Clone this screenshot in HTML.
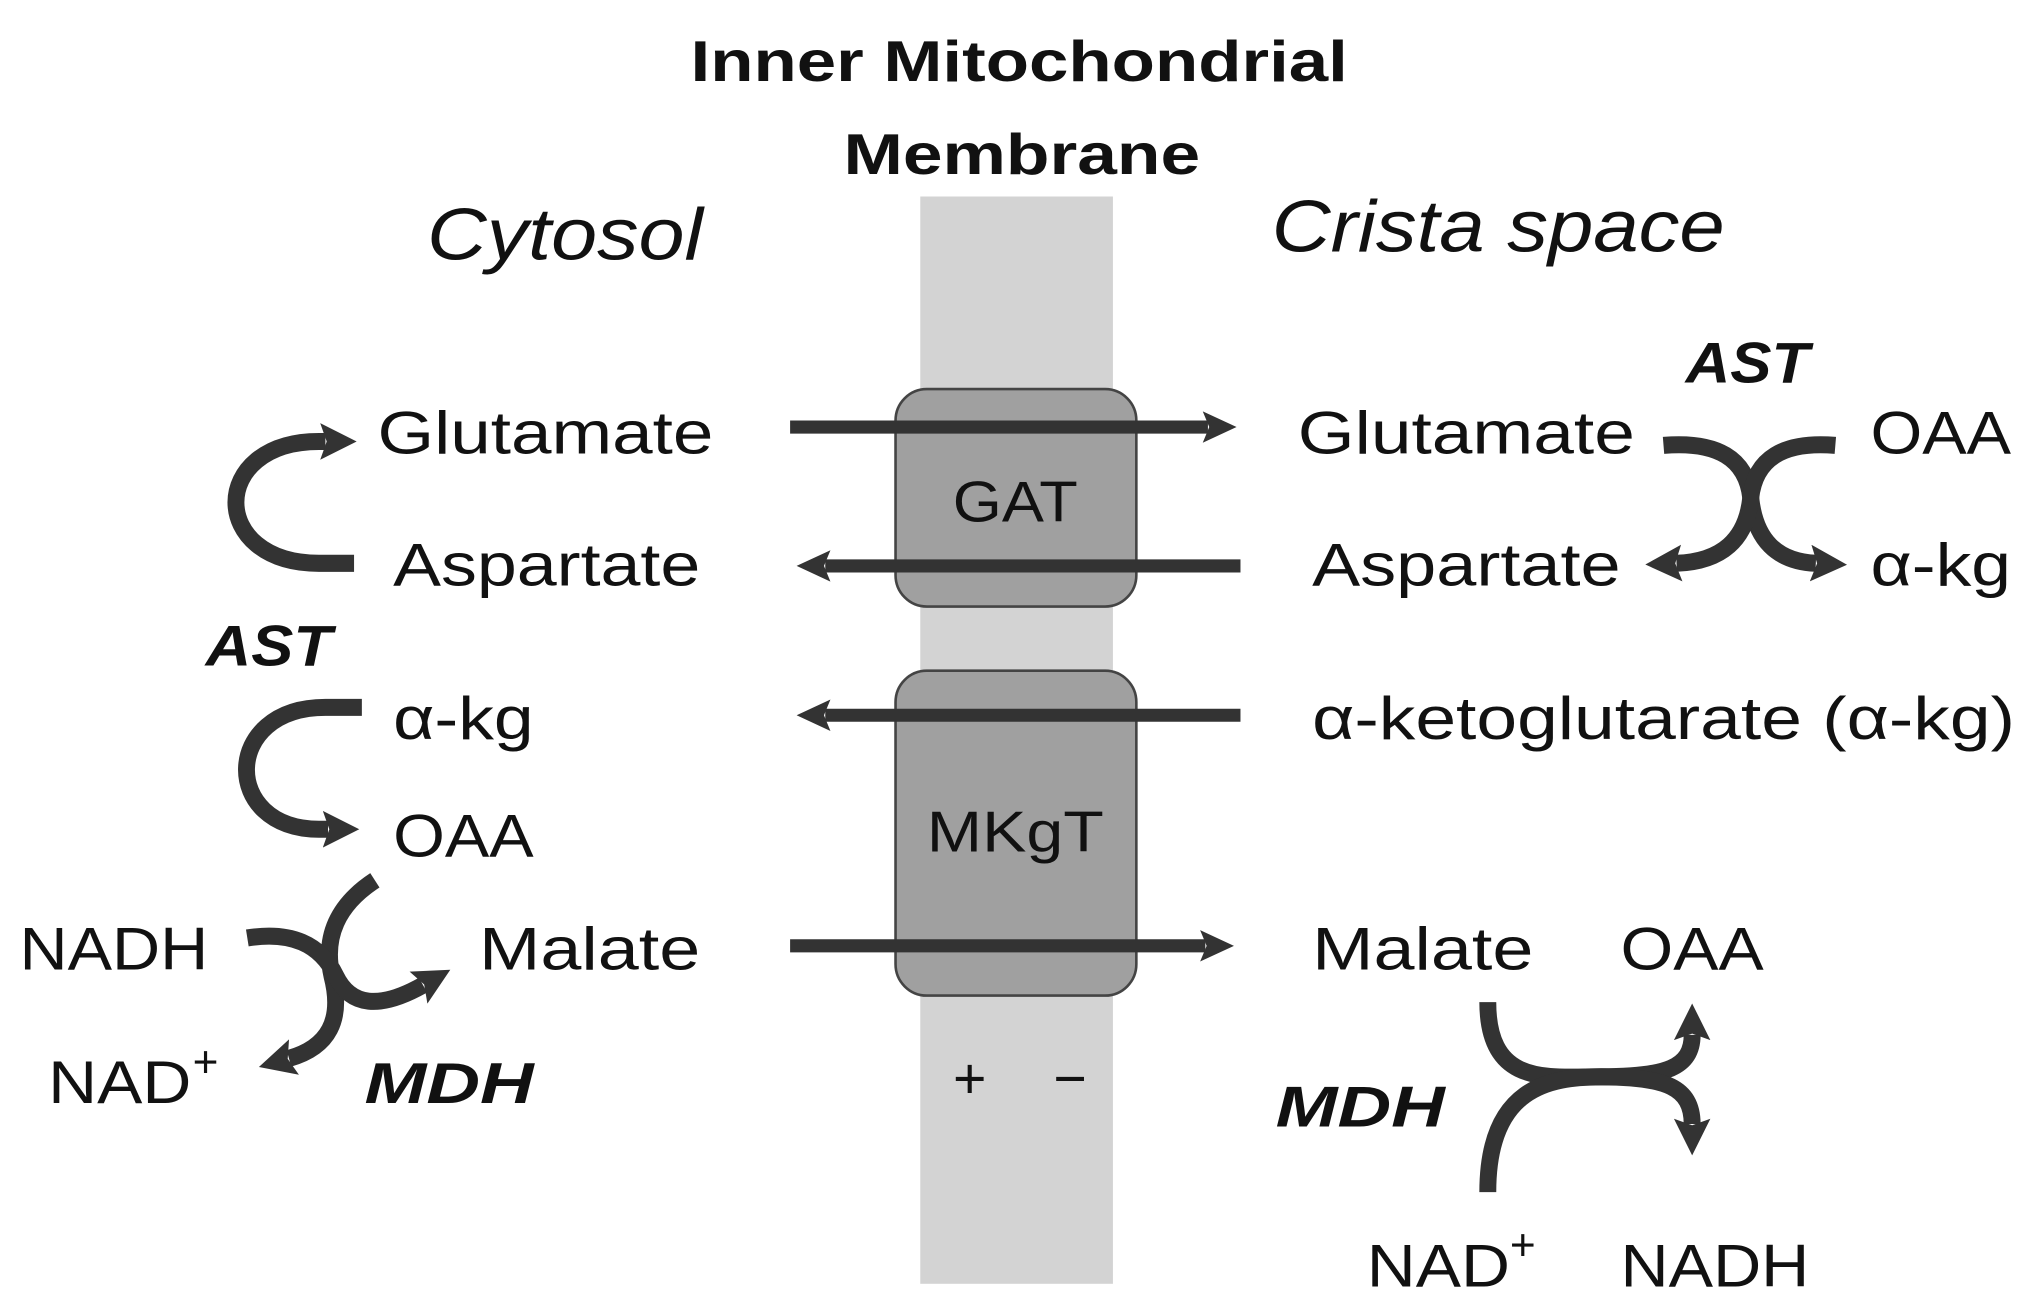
<!DOCTYPE html>
<html><head><meta charset="utf-8"><style>
html,body{margin:0;padding:0;background:#fff}
svg{display:block}
text{font-family:"Liberation Sans",sans-serif;fill:#111}
</style></head><body>
<svg width="2041" height="1310" viewBox="0 0 1568 1000" preserveAspectRatio="none" xmlns="http://www.w3.org/2000/svg">
<defs>
<marker id="ah" markerUnits="userSpaceOnUse" markerWidth="30" markerHeight="30" refX="4" refY="12" orient="auto">
<path d="M0,0 L26,12 L0,24 L5,12 Z" fill="#333"/>
</marker>
<marker id="ah2" markerUnits="userSpaceOnUse" markerWidth="36" markerHeight="36" refX="4" refY="14" orient="auto">
<path d="M0,0 L28,14 L0,28 L5,14 Z" fill="#333"/>
</marker>
</defs>
<rect width="1568" height="1000" fill="#fff"/>
<rect x="707" y="150" width="148" height="830" fill="#d3d3d3"/>
<text x="783" y="62" text-anchor="middle" font-weight="bold" font-size="44" textLength="505" lengthAdjust="spacingAndGlyphs">Inner Mitochondrial</text>
<text x="785" y="133" text-anchor="middle" font-weight="bold" font-size="44" textLength="274" lengthAdjust="spacingAndGlyphs">Membrane</text>
<text x="328" y="198" font-style="italic" font-size="56" textLength="212" lengthAdjust="spacingAndGlyphs">Cytosol</text>
<text x="977" y="192" font-style="italic" font-size="56" textLength="348" lengthAdjust="spacingAndGlyphs">Crista space</text>

<rect x="688" y="297" width="185" height="166" rx="24" fill="#a0a0a0" stroke="#444" stroke-width="2"/>
<rect x="688" y="512" width="185" height="248" rx="24" fill="#a0a0a0" stroke="#444" stroke-width="2"/>
<text x="780" y="398" text-anchor="middle" font-size="44" textLength="96" lengthAdjust="spacingAndGlyphs">GAT</text>
<text x="780" y="650" text-anchor="middle" font-size="44" textLength="136" lengthAdjust="spacingAndGlyphs">MKgT</text>

<g stroke="#333" stroke-width="10" fill="none">
<line x1="607" y1="326" x2="928" y2="326" marker-end="url(#ah)"/>
<line x1="953" y1="432" x2="634" y2="432" marker-end="url(#ah)"/>
<line x1="953" y1="546" x2="634" y2="546" marker-end="url(#ah)"/>
<line x1="607" y1="722" x2="926" y2="722" marker-end="url(#ah)"/>
</g>

<g stroke="#333" stroke-width="13" fill="none">
<path d="M272,430 L245,430 C160,430 160,337 245,337 L250,337" marker-end="url(#ah2)"/>
<path d="M278,540 L250,540 C170,540 170,633 245,633 L252,633" marker-end="url(#ah2)"/>
<path d="M288,672 Q245,700 255,745 Q268,795 222,808" marker-end="url(#ah2)"/>
<path d="M190,716 Q240,708 258,745 Q275,780 325,752" marker-end="url(#ah2)"/>
<path d="M1278,340 Q1340,335 1345,380 Q1350,428 1395,430" marker-end="url(#ah2)"/>
<path d="M1410,340 Q1350,335 1345,380 Q1340,428 1288,430" marker-end="url(#ah2)"/>
<path d="M1143,765 C1143,830 1190,822 1230,822 C1280,822 1300,815 1300,790" marker-end="url(#ah2)"/>
<path d="M1143,910 C1143,830 1190,822 1230,822 C1280,822 1300,830 1300,858" marker-end="url(#ah2)"/>
</g>

<g font-size="46">
<text x="290" y="346" textLength="258" lengthAdjust="spacingAndGlyphs">Glutamate</text>
<text x="302" y="447" textLength="236" lengthAdjust="spacingAndGlyphs">Aspartate</text>
<text x="302" y="564" textLength="108" lengthAdjust="spacingAndGlyphs">α-kg</text>
<text x="302" y="654" textLength="108" lengthAdjust="spacingAndGlyphs">OAA</text>
<text x="15" y="740" textLength="145" lengthAdjust="spacingAndGlyphs">NADH</text>
<text x="368" y="740" textLength="170" lengthAdjust="spacingAndGlyphs">Malate</text>
<text x="37" y="842" textLength="110" lengthAdjust="spacingAndGlyphs">NAD</text>
<text x="148" y="822" font-size="34">+</text>
<text x="997" y="346" textLength="259" lengthAdjust="spacingAndGlyphs">Glutamate</text>
<text x="1437" y="346" textLength="108" lengthAdjust="spacingAndGlyphs">OAA</text>
<text x="1008" y="447" textLength="237" lengthAdjust="spacingAndGlyphs">Aspartate</text>
<text x="1437" y="447" textLength="108" lengthAdjust="spacingAndGlyphs">α-kg</text>
<text x="1008" y="564" textLength="540" lengthAdjust="spacingAndGlyphs">α-ketoglutarate (α-kg)</text>
<text x="1008" y="740" textLength="170" lengthAdjust="spacingAndGlyphs">Malate</text>
<text x="1245" y="740" textLength="110" lengthAdjust="spacingAndGlyphs">OAA</text>
<text x="1050" y="982" textLength="110" lengthAdjust="spacingAndGlyphs">NAD</text>
<text x="1160" y="962" font-size="34">+</text>
<text x="1245" y="982" textLength="145" lengthAdjust="spacingAndGlyphs">NADH</text>
<text x="745" y="838" text-anchor="middle" font-size="44">+</text>
<text x="822" y="838" text-anchor="middle" font-size="44">−</text>
</g>
<g font-size="44" font-weight="bold" font-style="italic">
<text x="158" y="508" textLength="97" lengthAdjust="spacingAndGlyphs">AST</text>
<text x="280" y="842" textLength="130" lengthAdjust="spacingAndGlyphs">MDH</text>
<text x="1295" y="292" textLength="95" lengthAdjust="spacingAndGlyphs">AST</text>
<text x="980" y="860" textLength="130" lengthAdjust="spacingAndGlyphs">MDH</text>
</g>
</svg>
</body></html>
